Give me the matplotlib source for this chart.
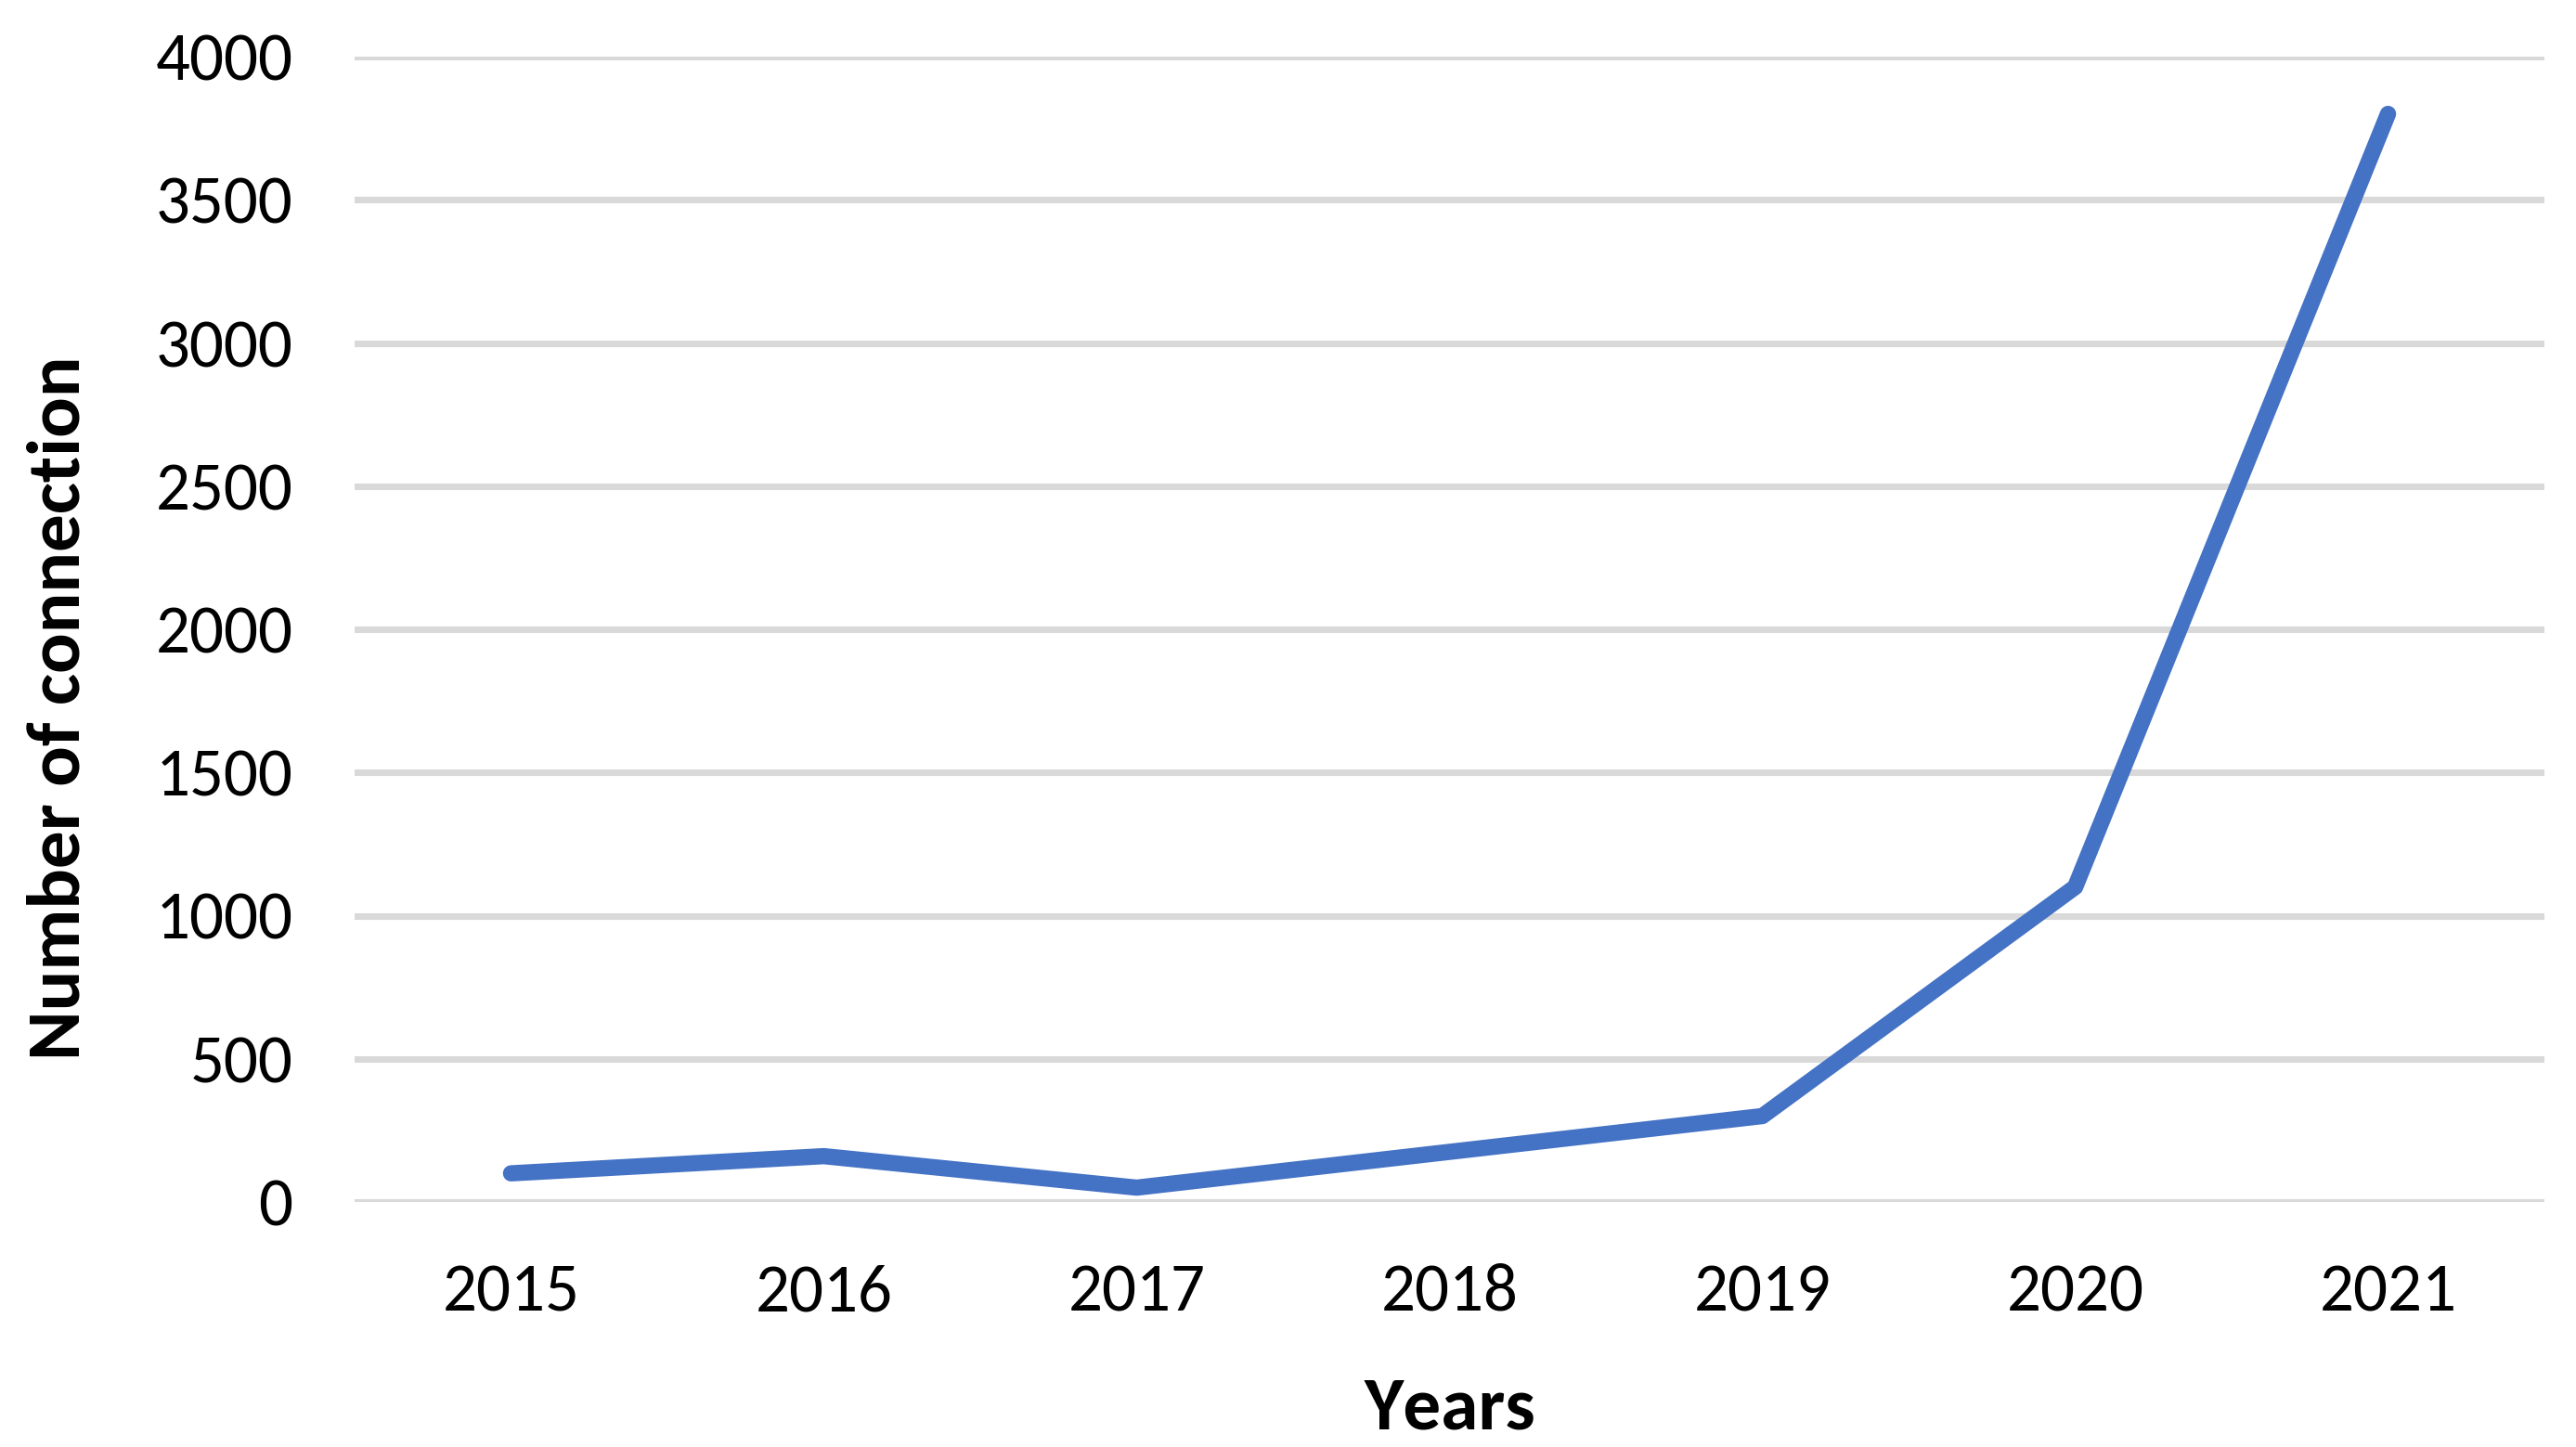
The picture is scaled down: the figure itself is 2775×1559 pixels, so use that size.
import matplotlib
matplotlib.use("Agg")
import matplotlib.pyplot as plt
from matplotlib import font_manager

years = ["2015", "2016", "2017", "2018", "2019", "2020", "2021"]
connections = [100, 160, 50, 175, 300, 1100, 3800]
y_ticks = [0, 500, 1000, 1500, 2000, 2500, 3000, 3500, 4000]

avail = {f.name for f in font_manager.fontManager.ttflist}
fam = "Carlito" if "Carlito" in avail else "Lato"
plt.rcParams['font.family'] = [fam, 'DejaVu Sans']

W, H, DPI = 2775, 1559, 300
fig = plt.figure(figsize=(W / DPI, H / DPI), dpi=DPI)
ax = fig.add_axes([382 / W, 1 - 1295 / H, (2741 - 382) / W, (1295 - 61) / H])

x = list(range(len(years)))
ax.plot(x, connections, color="#4472C4", lw=4.2, solid_capstyle="round",
        solid_joinstyle="round", zorder=3)

ax.set_xlim(-0.5, len(years) - 0.5)
ax.set_ylim(0, 4000)
ax.set_xticks(x)
ax.set_xticklabels(years)
ax.set_yticks(y_ticks)
ax.set_yticklabels([str(v) for v in y_ticks])
ax.grid(axis="y", color="#D9D9D9", lw=1.7, zorder=0)
ax.set_axisbelow(True)
for s in ax.spines.values():
    s.set_visible(False)
ax.tick_params(axis="both", length=0, labelsize=17.5, colors="black")
ax.tick_params(axis="y", pad=16)
ax.tick_params(axis="x", pad=16)

fig.text(64 / W, 1 - 763 / H, "Number of connection", rotation=90,
         ha="center", va="center", fontsize=19.5, fontweight="bold")
fig.text((382 + 2741) / 2 / W, 1 - 1539 / H, "Years", ha="center",
         va="baseline", fontsize=19.5, fontweight="bold")

fig.savefig("out.png", dpi=DPI)
